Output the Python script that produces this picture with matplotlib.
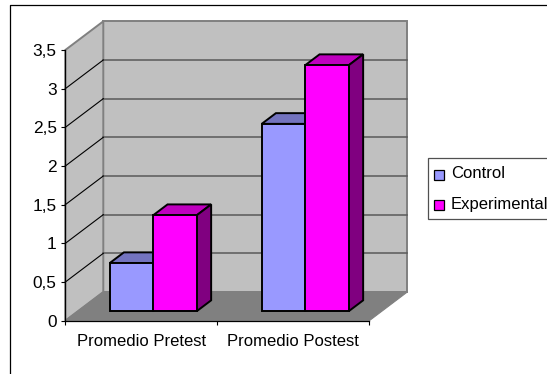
import matplotlib
matplotlib.use('Agg')
import matplotlib.pyplot as plt
from matplotlib.patches import Polygon, Rectangle
from matplotlib.lines import Line2D

# Data
categories = ['Promedio Pretest', 'Promedio Postest']
series_names = ['Control', 'Experimental']
control_values = [0.62, 2.42]
experimental_values = [1.24, 3.18]
y_ticks = [0, 0.5, 1, 1.5, 2, 2.5, 3, 3.5]
y_tick_labels = ['0', '0,5', '1', '1,5', '2', '2,5', '3', '3,5']

W, H = 547, 374
plt.rcParams['font.family'] = ['Liberation Sans', 'DejaVu Sans']

fig = plt.figure(figsize=(W / 100, H / 100), dpi=100, facecolor='white')

# Front plane of the fake 3D box, in pixels
left, right = 65.3, 369.3
bottom, top = 320.7, 50.0
ax = fig.add_axes([left / W, 1 - bottom / H, (right - left) / W, (bottom - top) / H])
ax.set_xlim(0, 2)
ax.set_ylim(0, 3.5)
ax.patch.set_visible(False)

# Oblique projection: depth 1 is the back wall
depth_dx = 38.0 / ((right - left) / 2)
depth_dy = 28.7 / ((bottom - top) / 3.5)


def proj(x, y, d):
    return (x + d * depth_dx, y + d * depth_dy)


def face(points, color, edge, lw, z):
    ax.add_patch(Polygon([proj(*p) for p in points], closed=True, facecolor=color,
                         edgecolor=edge, linewidth=lw, joinstyle='miter',
                         clip_on=False, zorder=z))


wall_edge = '#808080'
ymax = y_ticks[-1]

# Walls and floor
face([(0, 0, 1), (2, 0, 1), (2, ymax, 1), (0, ymax, 1)], '#C0C0C0', wall_edge, 1.4, 1)
face([(0, 0, 0), (0, 0, 1), (0, ymax, 1), (0, ymax, 0)], '#C0C0C0', wall_edge, 1.4, 1)
face([(0, 0, 0), (2, 0, 0), (2, 0, 1), (0, 0, 1)], '#808080', '#808080', 0.8, 1)

# Gridlines on the back wall and the side wall
for t in y_ticks[1:-1]:
    bx0, by0 = proj(0, t, 1)
    bx1, by1 = proj(2, t, 1)
    ax.plot([bx0, bx1], [by0, by1], color='#5A5A5A', lw=1.1, clip_on=False, zorder=2)
    ax.plot([0, bx0], [t, by0], color='black', lw=0.8, clip_on=False, zorder=2)

# Bars
bar_width = 0.287
d0, d1 = 0.337, 0.71
styles = [('#9999FF', '#7373BF', '#4D4D80'), ('#FF00FF', '#BF00BF', '#800080')]
all_values = [control_values, experimental_values]
z = 3
for c in range(len(categories)):
    center = c + 0.495
    for s, values in enumerate(all_values):
        v = values[c]
        x0 = center + (s - 1) * bar_width
        x1 = x0 + bar_width
        front, roof, side = styles[s]
        face([(x0, v, d0), (x1, v, d0), (x1, v, d1), (x0, v, d1)], roof, 'black', 1.4, z)
        face([(x1, 0, d0), (x1, 0, d1), (x1, v, d1), (x1, v, d0)], side, 'black', 1.4, z)
        face([(x0, 0, d0), (x1, 0, d0), (x1, v, d0), (x0, v, d0)], front, 'black', 1.4, z)
        z += 1

# Axes
for name in ['top', 'right']:
    ax.spines[name].set_visible(False)
for name in ['left', 'bottom']:
    ax.spines[name].set_linewidth(0.9)
    ax.spines[name].set_zorder(20)
ax.set_yticks(y_ticks)
ax.set_yticklabels(y_tick_labels)
ax.set_xticks([0, 1, 2])
ax.set_xticklabels([])
ax.set_xticks([0.5, 1.5], minor=True)
ax.set_xticklabels(categories, minor=True)
ax.tick_params(axis='y', length=3.2, width=0.8, pad=3, labelsize=12.4)
ax.tick_params(axis='x', which='major', length=3.0, width=0.8)
ax.tick_params(axis='x', which='minor', length=0, pad=9.5, labelsize=12)

# Chart frame, running off the right and bottom of the canvas
fig.add_artist(Line2D([9.5 / W, 9.5 / W, 1.0], [0, 1 - 4.5 / H, 1 - 4.5 / H],
                      color='black', lw=0.9, transform=fig.transFigure))

# Legend box
fig.add_artist(Rectangle((427.7 / W, 1 - 219 / H), 130 / W, 60.7 / H, facecolor='white',
                         edgecolor='#505050', lw=0.9, transform=fig.transFigure, clip_on=False))
swatch_y = [179.7, 210.0]
text_y = [173.5, 204.5]
for i, name in enumerate(series_names):
    fig.add_artist(Rectangle((434.3 / W, 1 - swatch_y[i] / H), 10 / W, 10.2 / H,
                             facecolor=styles[i][0], edgecolor='black', lw=0.9,
                             transform=fig.transFigure))
    fig.text(450.7 / W, 1 - text_y[i] / H, name, fontsize=12, va='center', ha='left', color='black')

fig.savefig('out.png', dpi=100)
